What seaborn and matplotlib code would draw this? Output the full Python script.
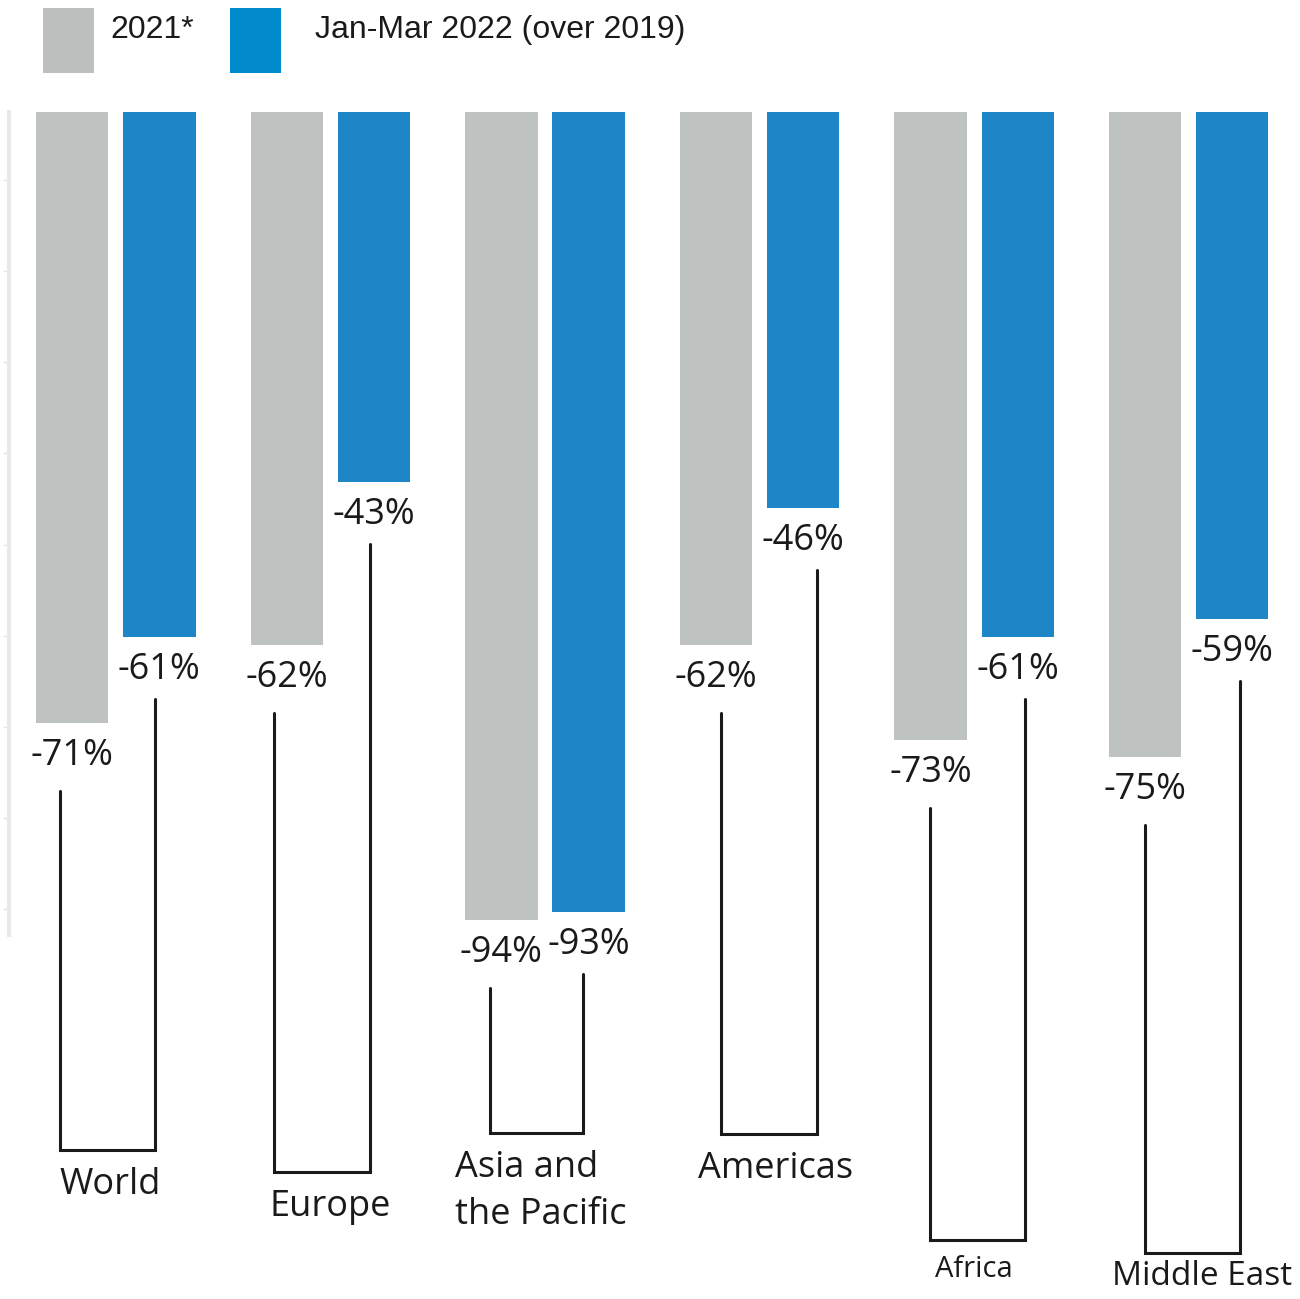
import numpy as np
import pandas as pd
import matplotlib
matplotlib.use("Agg")
import matplotlib.pyplot as plt
import seaborn as sns
from matplotlib.patches import Rectangle

# ---------------- data ----------------
regions = ["World", "Europe", "Asia and\nthe Pacific", "Americas", "Africa", "Middle East"]
series = ["2021*", "Jan-Mar 2022 (over 2019)"]
vals_2021 = [-71, -62, -94, -62, -73, -75]
vals_2022 = [-61, -43, -93, -46, -61, -59]

# ---------------- style ----------------
bar_colors = ["#BEC2C1", "#1E86C6"]
legend_colors = ["#BBBFBE", "#0089CB"]
region_fontsizes = [26, 26, 26, 26, 21, 24]
region_gap_px = [17, 17, 17, 17, 15, 7]
bracket_bottom_px = [1150, 1172, 1133, 1134, 1240, 1253]
label_dx_px = [-6, 0, -4, 16, 0, 13]
left_dx_px = [-12, -13, -11, 5, -1, 0]
right_dx_px = [-4, -4, -6, 14, 7, 8]

W, H = 1300, 1299
top_px, bot_px = 112, 935
px_per_pct = 8.6
x_px_per_unit = (1296 - 8.5) / 6

sns.set_theme(style="white")
plt.rcParams["font.family"] = ["Open Sans", "DejaVu Sans"]

fig = plt.figure(figsize=(W / 100, H / 100), dpi=100)
ax = fig.add_axes([8.5 / W, 1 - bot_px / H, (1296 - 8.5) / W, (bot_px - top_px) / H])

df = pd.DataFrame({
    "region": regions * 2,
    "series": [series[0]] * len(regions) + [series[1]] * len(regions),
    "value": vals_2021 + vals_2022,
})
sns.barplot(data=df, x="region", y="value", hue="series", order=regions,
            hue_order=series, palette=bar_colors, width=0.812, gap=0.17,
            saturation=1, legend=False, ax=ax, edgecolor="none")


def px_to_data(p):
    return -(p - top_px) / px_per_pct


def data_to_px(v):
    return top_px - v * px_per_pct


# value labels
centers = {0: [], 1: []}
for k, (cont, vals) in enumerate(zip(ax.containers, [vals_2021, vals_2022])):
    for bar, v in zip(cont, vals):
        x = bar.get_x() + bar.get_width() / 2
        centers[k].append(x)
        ax.annotate(f"{v}%", (x, v), xytext=(0, -33), textcoords="offset pixels",
                    ha="center", va="center", fontsize=26, color="#1a1a1a",
                    annotation_clip=False)

# brackets and region names
for i in range(len(regions)):
    xl = centers[0][i] + left_dx_px[i] / x_px_per_unit
    xr = centers[1][i] + right_dx_px[i] / x_px_per_unit
    yb = px_to_data(bracket_bottom_px[i])
    yl = px_to_data(data_to_px(vals_2021[i]) + 68)
    yr = px_to_data(data_to_px(vals_2022[i]) + 62)
    ax.plot([xl, xl, xr, xr], [yl, yb, yb, yr], color="#1a1a1a", lw=2.2,
            clip_on=False, solid_joinstyle="miter")
    xc = (centers[0][i] + centers[1][i]) / 2 + label_dx_px[i] / x_px_per_unit
    ax.text(xc, px_to_data(bracket_bottom_px[i] + region_gap_px[i]), regions[i],
            ha="center", va="top", multialignment="left",
            fontsize=region_fontsizes[i], color="#1a1a1a", linespacing=1.4)

ax.set_xlim(-0.5, 5.5)
ax.set_ylim(px_to_data(bot_px), 0)
ax.set_xlabel("")
ax.set_ylabel("")
ax.set_xticks([])
ax.set_yticks(np.arange(-7.9, -95, -10.6))
ax.set_yticklabels([])
ax.tick_params(axis="y", length=4, width=1, color="#E4E6E6", direction="out", left=True)
for s in ["top", "right", "bottom"]:
    ax.spines[s].set_visible(False)
ax.spines["left"].set_color("#E8EAEA")
ax.spines["left"].set_linewidth(3)

# legend
leg_x = [43, 230]
leg_tx = [110, 315]
for c, x0, tx, lab in zip(legend_colors, leg_x, leg_tx, series):
    fig.add_artist(Rectangle((x0 / W, 1 - 73 / H), 51 / W, 65 / H,
                             transform=fig.transFigure, color=c, lw=0))
    fig.text(tx / W, 1 - 38 / H, lab, ha="left", va="baseline", fontsize=23,
             family=["Liberation Sans", "DejaVu Sans"], color="#1a1a1a")

fig.savefig("out.png", dpi=100)
